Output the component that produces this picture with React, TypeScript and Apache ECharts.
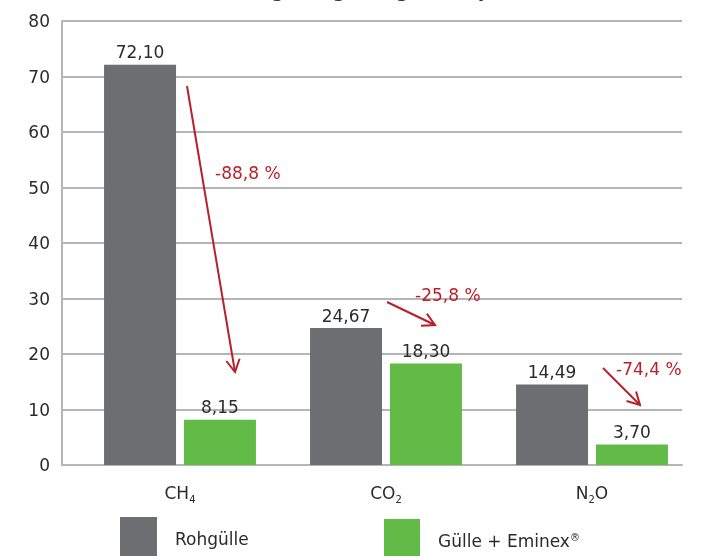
import React, { useEffect, useRef } from "react";
import * as echarts from "echarts";

const categories = ["CH4", "CO2", "N2O"];
const categoryMain = ["CH", "CO", "N"];
const categorySub = ["4", "2", "2"];
const categoryTail = ["", "", "O"];
const rohguelle = [72.1, 24.67, 14.49];
const eminex = [8.15, 18.3, 3.7];
const reductions = ["-88,8 %", "-25,8 %", "-74,4 %"];
const seriesNames = ["Rohgülle", "Gülle + Eminex®"];
const yTicks = [0, 10, 20, 30, 40, 50, 60, 70, 80];

const FONT = "DejaVu Sans";
const FS = 17;
const RED = "#b81f2a";
const GRAY = "#6d6e71";
const GREEN = "#62bb46";
const TEXT = "#2b2b2b";

function arrow(x1: number, y1: number, x2: number, y2: number, head = 14) {
  const ang = Math.atan2(y2 - y1, x2 - x1);
  const a1 = ang + Math.PI - 0.5;
  const a2 = ang + Math.PI + 0.5;
  return [
    {
      type: "line",
      z: 100,
      shape: { x1, y1, x2, y2 },
      style: { stroke: RED, lineWidth: 2 },
    },
    {
      type: "polyline",
      z: 100,
      shape: {
        points: [
          [x2 + head * Math.cos(a1), y2 + head * Math.sin(a1)],
          [x2, y2],
          [x2 + head * Math.cos(a2), y2 + head * Math.sin(a2)],
        ],
      },
      style: { stroke: RED, lineWidth: 2, fill: "none" },
    },
  ];
}

export default function App() {
  const ref = useRef<HTMLDivElement>(null);
  useEffect(() => {
    if (!ref.current) return;
    const chart = echarts.init(ref.current, undefined, { renderer: "svg" });
    const labelRich = {
      a: { fontFamily: FONT, fontSize: FS, color: TEXT },
      s: { fontFamily: FONT, fontSize: 10, color: TEXT, verticalAlign: "bottom", padding: [12, 0, 0, 0] },
    };
    const valueLabel = {
      show: true,
      position: "top",
      distance: 4,
      fontSize: FS,
      color: TEXT,
      fontFamily: FONT,
      formatter: (p: any) => p.value.toFixed(2).replace(".", ","),
    };
    chart.setOption({
      animation: false,
      textStyle: { fontFamily: FONT },
      grid: [
        { left: 62, right: 36, top: 21, bottom: 91 },
        { left: 77, right: 23, top: 21, bottom: 91 },
      ],
      xAxis: [
        {
          gridIndex: 0,
          type: "category",
          data: categories,
          axisLabel: { show: false },
          axisTick: { show: false },
          axisLine: { lineStyle: { color: "#b5b5b8", width: 2 } },
        },
        {
          gridIndex: 1,
          type: "category",
          data: categories,
          axisTick: { show: false },
          axisLine: { show: false },
          axisLabel: {
            margin: 17,
            formatter: (_v: string, i: number) =>
              `{a|${categoryMain[i]}}{s|${categorySub[i]}}` + (categoryTail[i] ? `{a|${categoryTail[i]}}` : ""),
            rich: labelRich,
          },
        },
      ],
      yAxis: [
        {
          gridIndex: 0,
          type: "value",
          min: yTicks[0],
          max: yTicks[yTicks.length - 1],
          interval: 10,
          axisLine: { show: true, lineStyle: { color: "#b5b5b8", width: 2 } },
          axisTick: { show: false },
          splitLine: { lineStyle: { color: "#b5b5b8", width: 2 } },
          axisLabel: { fontSize: FS, color: TEXT, margin: 12, fontFamily: FONT },
        },
        {
          gridIndex: 1,
          type: "value",
          min: yTicks[0],
          max: yTicks[yTicks.length - 1],
          show: false,
          splitLine: { show: false },
        },
      ],
      legend: [
        {
          data: [seriesNames[0]],
          left: 120,
          top: 517,
          padding: 0,
          icon: "rect",
          itemWidth: 37,
          itemHeight: 44,
          textStyle: { fontSize: FS, color: TEXT, fontFamily: FONT, padding: [0, 0, 0, 13] },
        },
        {
          data: [seriesNames[1]],
          left: 384,
          top: 519,
          padding: 0,
          icon: "rect",
          itemWidth: 36,
          itemHeight: 44,
          formatter: () => "{a|Gülle + Eminex}{s|®}",
          textStyle: {
            fontSize: FS,
            color: TEXT,
            fontFamily: FONT,
            padding: [0, 0, 0, 13],
            rich: {
              a: { fontSize: FS, color: TEXT, fontFamily: FONT },
              s: { fontSize: 10, color: TEXT, fontFamily: FONT, verticalAlign: "top", padding: [0, 0, 8, 0] },
            },
          },
        },
      ],
      series: [
        {
          name: seriesNames[0],
          type: "bar",
          xAxisIndex: 1,
          yAxisIndex: 1,
          data: rohguelle,
          barWidth: 72,
          barGap: "11%",
          itemStyle: { color: GRAY },
          label: valueLabel,
        },
        {
          name: seriesNames[1],
          type: "bar",
          xAxisIndex: 1,
          yAxisIndex: 1,
          data: eminex,
          barWidth: 72,
          barGap: "11%",
          itemStyle: { color: GREEN },
          label: valueLabel,
        },
      ],
      graphic: [
        {
          type: "text",
          left: "center",
          top: -19,
          z: 100,
          style: { text: "Ausgasung in mg CO₂-eq", fontSize: 18, fontWeight: "bold", fill: TEXT, fontFamily: FONT },
        },
        ...arrow(187, 86, 235, 372),
        ...arrow(387, 302, 435, 325),
        ...arrow(603, 368, 640, 405),
        { type: "text", z: 100, x: 215, y: 173, style: { text: reductions[0], fontSize: FS, fill: RED, fontFamily: FONT, verticalAlign: "middle" } },
        { type: "text", z: 100, x: 415, y: 295, style: { text: reductions[1], fontSize: FS, fill: RED, fontFamily: FONT, verticalAlign: "middle" } },
        { type: "text", z: 100, x: 616, y: 369, style: { text: reductions[2], fontSize: FS, fill: RED, fontFamily: FONT, verticalAlign: "middle" } },
      ],
    });
    return () => chart.dispose();
  }, []);
  return <div ref={ref} style={{ position: "fixed", left: 0, top: 0, width: 718, height: 556 }} />;
}
